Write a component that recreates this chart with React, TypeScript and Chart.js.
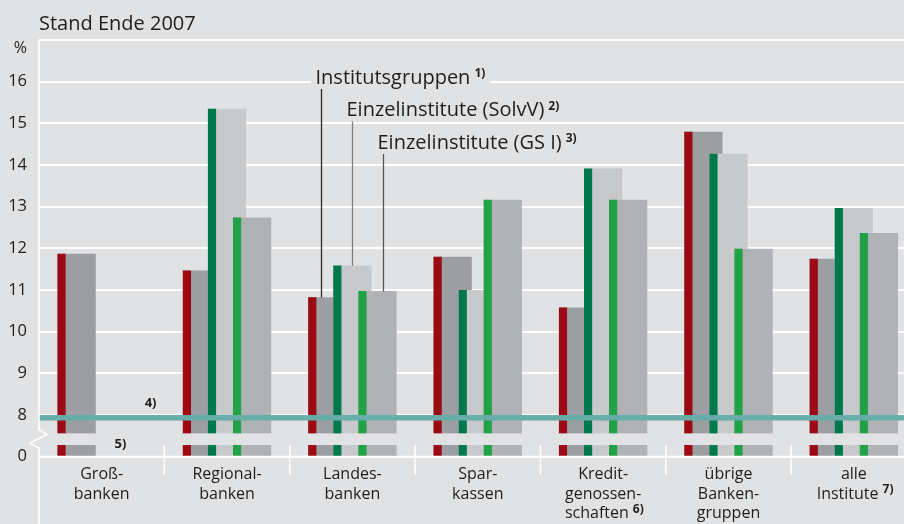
import React, { useEffect, useRef } from 'react';
import { Chart, registerables } from 'chart.js';

Chart.register(...registerables);

// ---------- data ----------
const TITLE = 'Stand Ende 2007';
const UNIT_LABEL = '%';

const CATEGORIES: string[][] = [
  ['Groß-', 'banken'],
  ['Regional-', 'banken'],
  ['Landes-', 'banken'],
  ['Spar-', 'kassen'],
  ['Kredit-', 'genossen-', 'schaften'],
  ['übrige', 'Banken-', 'gruppen'],
  ['alle', 'Institute'],
];
const CATEGORY_NOTES = ['', '', '', '', '6)', '', '7)'];

const SERIES_NAMES = ['Institutsgruppen', 'Einzelinstitute (SolvV)', 'Einzelinstitute (GS I)'];
const SERIES_NOTES = ['1)', '2)', '3)'];

const INSTITUTSGRUPPEN = [11.86, 11.46, 10.82, 11.79, 10.57, 14.79, 11.74];
const EINZEL_SOLVV: (number | null)[] = [null, 15.34, 11.58, 10.99, 13.91, 14.26, 12.96];
const EINZEL_GSI: (number | null)[] = [null, 12.73, 10.97, 13.16, 13.16, 11.98, 12.36];

const Y_TICKS = [0, 8, 9, 10, 11, 12, 13, 14, 15, 16];
const MIN_RATIO = 8;
const ANNOTATED_CATEGORY = 2;
const FOOTNOTE_4 = '4)';
const FOOTNOTE_5 = '5)';

// ---------- layout / style ----------
const AXIS_ZERO = 7; // axis position where the value 0 is drawn (broken axis)
const AXIS_TOP = 17;
const GAP_FROM = 7.28;
const GAP_TO = 7.56;
const GROUP_OFFSETS = [-0.2, 0, 0.2];
const BAR_WIDTH = 0.3;
const STRIPE_WIDTH = 0.06;

const FONT = '"Open Sans", "Noto Sans", sans-serif';
const BG = '#e1e2e4';
const BAR_COLORS = ['#9d9ea2', '#c8c9cb', '#b1b2b5'];
const STRIPE_COLORS = ['#9b0a14', '#00784b', '#22a247'];
const TEAL = '#69adaa';
const TEXT = '#1e1e1e';
const LEADER_COLORS = ['#2b2b2b', '#808080', '#555555'];

const SERIES = [INSTITUTSGRUPPEN, EINZEL_SOLVV, EINZEL_GSI];
const toAxis = (v: number) => (v === 0 ? AXIS_ZERO : v);
const NOTE_PAD = '   ';

const decorPlugin = {
  id: 'decor',
  beforeDraw(chart: any) {
    const { ctx, width, height } = chart;
    ctx.save();
    ctx.fillStyle = BG;
    ctx.fillRect(0, 0, width, height);
    ctx.restore();
  },
  afterDatasetsDraw(chart: any) {
    const { ctx, chartArea: ca, scales } = chart;
    const xs = scales.x;
    const ys = scales.y;
    const gapTop = ys.getPixelForValue(GAP_TO);
    const gapBottom = ys.getPixelForValue(GAP_FROM);
    const y0 = ys.getPixelForValue(AXIS_ZERO);
    const line = (x1: number, y1: number, x2: number, y2: number) => {
      ctx.beginPath();
      ctx.moveTo(x1, y1);
      ctx.lineTo(x2, y2);
      ctx.stroke();
    };
    ctx.save();
    // axis break gap
    ctx.fillStyle = BG;
    ctx.fillRect(ca.left, gapTop, ca.right - ca.left, gapBottom - gapTop);
    // zero line
    ctx.strokeStyle = '#ffffff';
    ctx.lineWidth = 2;
    line(ca.left, y0, ca.right, y0);
    // category separators
    ctx.lineWidth = 1.5;
    for (let k = 1; k < CATEGORIES.length; k++) {
      const x = xs.getPixelForValue(k - 0.5);
      line(x, gapBottom, x, y0 + 18);
    }
    // minimum ratio line
    const y8 = ys.getPixelForValue(MIN_RATIO);
    ctx.fillStyle = TEAL;
    ctx.fillRect(ca.left, y8, ca.right - ca.left, 5.5);
    // left axis with break
    ctx.strokeStyle = '#ffffff';
    ctx.lineWidth = 1.5;
    ctx.beginPath();
    ctx.moveTo(ca.left, ca.top);
    ctx.lineTo(ca.left, gapTop - 4);
    ctx.lineTo(ca.left + 8, gapTop + 1);
    ctx.lineTo(ca.left - 9, gapBottom - 2);
    ctx.lineTo(ca.left, gapBottom + 3);
    ctx.lineTo(ca.left, chart.height);
    ctx.stroke();

    // unit label
    ctx.fillStyle = TEXT;
    ctx.font = `16px ${FONT}`;
    ctx.textAlign = 'right';
    ctx.textBaseline = 'middle';
    ctx.fillText(UNIT_LABEL, ca.left - 12, ca.top + 8.5);

    // series annotations with leader lines
    const textYs = [ca.top + 38, ca.top + 70.5, ca.top + 103];
    const leaderDx = [-6, 0, 6];
    ctx.textAlign = 'left';
    for (let g = 0; g < SERIES_NAMES.length; g++) {
      const lx = Math.round(xs.getPixelForValue(ANNOTATED_CATEGORY + GROUP_OFFSETS[g]) + leaderDx[g]) + 0.5;
      const tx = lx - 6;
      const ty = textYs[g];
      ctx.font = `20px ${FONT}`;
      const w = ctx.measureText(SERIES_NAMES[g]).width;
      ctx.font = `bold 12px ${FONT}`;
      const sw = ctx.measureText(SERIES_NOTES[g]).width;
      ctx.fillStyle = BG;
      ctx.fillRect(tx - 5, ty - 8, w + sw + 14, 16);
      ctx.fillStyle = TEXT;
      ctx.font = `20px ${FONT}`;
      ctx.fillText(SERIES_NAMES[g], tx, ty);
      ctx.font = `bold 12px ${FONT}`;
      ctx.fillText(SERIES_NOTES[g], tx + w + 4, ty - 4);
      const v = SERIES[g][ANNOTATED_CATEGORY] as number;
      ctx.strokeStyle = LEADER_COLORS[g];
      ctx.lineWidth = 1.3;
      line(lx, ty + 11, lx, ys.getPixelForValue(v));
    }

    // footnote markers 4) and 5)
    ctx.fillStyle = TEXT;
    ctx.font = `bold 13px ${FONT}`;
    ctx.textAlign = 'center';
    ctx.fillText(FOOTNOTE_4, xs.getPixelForValue(0.39), ys.getPixelForValue(8.29));
    ctx.fillText(FOOTNOTE_5, xs.getPixelForValue(0.15), ys.getPixelForValue(7.3));

    // category footnotes
    const lh = 16 * 1.2;
    for (let i = 0; i < CATEGORIES.length; i++) {
      if (!CATEGORY_NOTES[i]) continue;
      const lines = CATEGORIES[i];
      const last = lines[lines.length - 1];
      ctx.font = `16px ${FONT}`;
      const wFull = ctx.measureText(last + NOTE_PAD).width;
      const wText = ctx.measureText(last).width;
      const cx = xs.getPixelForValue(i);
      const ly = xs.top + 8.5 + lh / 2 + (lines.length - 1) * lh;
      ctx.font = `bold 12px ${FONT}`;
      ctx.textAlign = 'left';
      ctx.fillText(CATEGORY_NOTES[i], cx - wFull / 2 + wText + 4, ly - 4);
    }
    ctx.restore();
  },
};

function buildDatasets() {
  const ds: any[] = [];
  SERIES.forEach((vals, g) => {
    const off = GROUP_OFFSETS[g];
    const common = {
      categoryPercentage: 1,
      barThickness: 'flex',
      stack: 'all',
      borderWidth: 0,
    };
    ds.push({
      ...common,
      label: SERIES_NAMES[g],
      data: vals.map((v, i) => ({ x: i + off, y: v })),
      backgroundColor: BAR_COLORS[g],
      barPercentage: BAR_WIDTH,
      order: 10 - 2 * g,
    });
    ds.push({
      ...common,
      label: SERIES_NAMES[g] + ' ' + SERIES_NOTES[g],
      data: vals.map((v, i) => ({ x: i + off - BAR_WIDTH / 2 + STRIPE_WIDTH / 2, y: v })),
      backgroundColor: STRIPE_COLORS[g],
      barPercentage: STRIPE_WIDTH,
      order: 9 - 2 * g,
    });
  });
  return ds;
}

export default function App() {
  const ref = useRef<HTMLCanvasElement>(null);
  useEffect(() => {
    if (!ref.current) return;
    const chart = new Chart(ref.current, {
      type: 'bar',
      data: { datasets: buildDatasets() },
      options: {
        responsive: false,
        animation: false,
        devicePixelRatio: 1,
        layout: { padding: 0 },
        plugins: {
          legend: { display: false },
          tooltip: { enabled: false },
          title: {
            display: true,
            text: TITLE,
            align: 'start',
            fullSize: false,
            color: TEXT,
            font: { family: FONT, size: 20, weight: 'normal' },
            padding: { top: 12, bottom: 4 },
          },
        },
        scales: {
          x: {
            type: 'linear',
            min: -0.5,
            max: 6.4,
            offset: false,
            grid: { display: false, drawTicks: false, offset: false },
            border: { display: false },
            afterBuildTicks: (s: any) => {
              s.ticks = CATEGORIES.map((_, i) => ({ value: i }));
            },
            afterFit: (s: any) => {
              s.height = 67.3;
            },
            ticks: {
              autoSkip: false,
              maxRotation: 0,
              padding: 8.5,
              color: TEXT,
              font: { family: FONT, size: 16 },
              callback: (v: any) => {
                const i = Math.round(Number(v));
                const lines = CATEGORIES[i].slice();
                if (CATEGORY_NOTES[i]) lines[lines.length - 1] += NOTE_PAD;
                return lines;
              },
            },
          },
          y: {
            type: 'linear',
            min: AXIS_ZERO,
            max: AXIS_TOP,
            stacked: false,
            grid: { color: '#ffffff', lineWidth: 2, drawTicks: false },
            border: { display: false },
            afterBuildTicks: (s: any) => {
              s.ticks = [...Y_TICKS.map((v) => ({ value: toAxis(v) })), { value: AXIS_TOP }];
            },
            afterFit: (s: any) => {
              s.width = 39;
            },
            ticks: {
              padding: 12,
              color: TEXT,
              font: { family: FONT, size: 16.5 },
              callback: (v: any) => {
                const n = Number(v);
                if (n === AXIS_TOP) return '';
                if (n === AXIS_ZERO) return '0';
                return String(n);
              },
            },
          },
        },
      } as any,
      plugins: [decorPlugin],
    });
    return () => chart.destroy();
  }, []);
  return (
    <div style={{ position: 'absolute', left: 0, top: 0, width: 904, height: 524, background: BG }}>
      <canvas ref={ref} width={904} height={524} style={{ display: 'block' }} />
    </div>
  );
}
